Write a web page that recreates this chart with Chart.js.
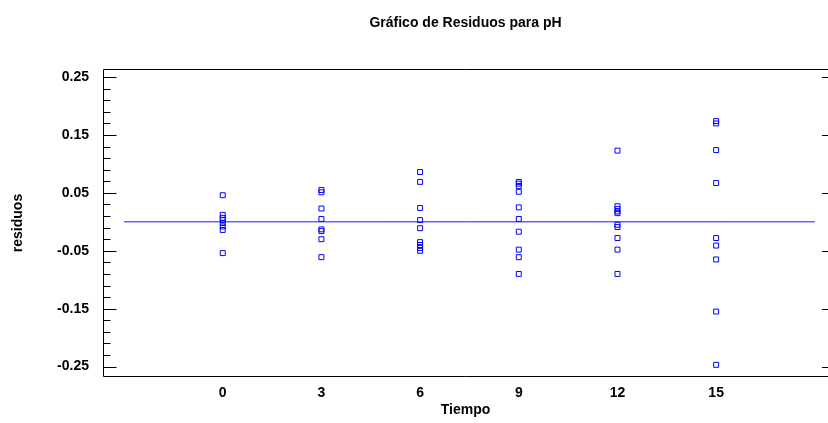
<!DOCTYPE html>
<html>
<head>
<meta charset="utf-8">
<title>Gráfico de Residuos para pH</title>
<script src="https://cdn.jsdelivr.net/npm/chart.js@4.4.1/dist/chart.umd.min.js"></script>
<style>
  html, body { margin: 0; padding: 0; background: #fff; }
  #wrap { width: 828px; height: 423px; }
</style>
</head>
<body>
<div id="wrap"><canvas id="residChart" width="828" height="423"></canvas></div>
<script>
/* ---- data ---- */
const tiempos = [0, 3, 6, 9, 12, 15];

const residuosT0 = [0.046, 0.012, 0.007, 0.003, -0.002, -0.008, -0.014, -0.054];
const residuosT3 = [0.055, 0.051, 0.023, 0.005, -0.013, -0.016, -0.030, -0.061];
const residuosT6 = [0.086, 0.069, 0.024, 0.003, -0.011, -0.035, -0.040, -0.045, -0.050];
const residuosT9 = [0.069, 0.066, 0.062, 0.052, 0.025, 0.005, -0.017, -0.048, -0.061, -0.090];
const residuosT12 = [0.123, 0.027, 0.022, 0.018, 0.015, -0.005, -0.009, -0.028, -0.048, -0.090];
const residuosT15 = [0.174, 0.170, 0.124, 0.067, -0.028, -0.041, -0.065, -0.155, -0.247];

const yTickValues = [0.25, 0.15, 0.05, -0.05, -0.15, -0.25];
const yMinorStep = 0.02;

// zero reference line end points (in data units)
const zeroLineX = [-3, 18];

const chartTitle = 'Gráfico de Residuos para pH';

/* ---- build scatter points ---- */
const residuosPorTiempo = [residuosT0, residuosT3, residuosT6, residuosT9, residuosT12, residuosT15];
const puntos = [];
residuosPorTiempo.forEach((lista, i) => {
  lista.forEach((r) => puntos.push({ x: tiempos[i], y: r }));
});

const FONT = '"Liberation Sans", Arial, Helvetica, sans-serif';
const blue = 'rgb(0, 0, 255)';

// frame (top/left/bottom) + inner tick marks + title, drawn on the canvas
const framePlugin = {
  id: 'frame',
  afterDraw(chart) {
    const { ctx, chartArea: a, scales: { y } } = chart;
    const left = Math.round(a.left) + 0.5;
    const top = Math.round(a.top) + 0.5;
    const bottom = Math.round(a.bottom) - 0.5;
    const right = chart.width;
    ctx.save();
    ctx.strokeStyle = '#000';
    ctx.lineWidth = 1;
    ctx.beginPath();
    ctx.moveTo(right, top);
    ctx.lineTo(left, top);
    ctx.lineTo(left, bottom);
    ctx.lineTo(right, bottom);
    ctx.stroke();

    // left minor + major ticks, pointing into the plot
    ctx.beginPath();
    for (let i = 0; i <= 25; i++) {
      const v = -0.25 + i * yMinorStep;
      const py = Math.round(y.getPixelForValue(v)) + 0.5;
      const isMajor = yTickValues.some((t) => Math.abs(t - v) < 1e-6);
      ctx.moveTo(left, py);
      ctx.lineTo(left + (isMajor ? 13 : 7), py);
    }
    // right side, major only
    yTickValues.forEach((v) => {
      const py = Math.round(y.getPixelForValue(v)) + 0.5;
      ctx.moveTo(right, py);
      ctx.lineTo(right - 6, py);
    });
    ctx.stroke();

    // title centred over the plot area
    ctx.fillStyle = '#000';
    ctx.font = 'bold 14px ' + FONT;
    ctx.textAlign = 'center';
    ctx.textBaseline = 'middle';
    ctx.fillText(chartTitle, (a.left + right) / 2, 23);
    ctx.restore();
  }
};

new Chart(document.getElementById('residChart'), {
  type: 'scatter',
  data: {
    datasets: [
      {
        label: 'cero',
        type: 'line',
        data: zeroLineX.map((x) => ({ x: x, y: 0 })),
        borderColor: 'rgb(20, 20, 255)',
        borderWidth: 1,
        pointRadius: 0,
        fill: false,
        order: 2
      },
      {
        label: 'residuos',
        data: puntos,
        pointStyle: 'rect',
        pointRadius: 3.5,
        pointBorderWidth: 1,
        pointBorderColor: blue,
        pointBackgroundColor: 'rgba(0,0,0,0)',
        order: 1
      }
    ]
  },
  options: {
    responsive: false,
    animation: false,
    layout: { autoPadding: false, padding: { top: 69, right: 0, bottom: 0, left: 0 } },
    plugins: {
      legend: { display: false },
      tooltip: { enabled: false }
    },
    scales: {
      x: {
        type: 'linear',
        min: -3.64,
        max: 18.4,
        grid: { display: false, drawTicks: false },
        border: { display: false },
        afterBuildTicks: (scale) => { scale.ticks = tiempos.map((v) => ({ value: v })); },
        afterFit: (scale) => { scale.height = 46; },
        ticks: {
          padding: 8,
          color: '#000',
          font: { family: FONT, size: 14, weight: 'bold' }
        },
        title: {
          display: true,
          text: 'Tiempo',
          color: '#000',
          font: { family: FONT, size: 14, weight: 'bold' },
          padding: { top: 0, bottom: 4 }
        }
      },
      y: {
        type: 'linear',
        min: -0.268,
        max: 0.264,
        grid: { display: false, drawTicks: false },
        border: { display: false },
        afterBuildTicks: (scale) => { scale.ticks = yTickValues.map((v) => ({ value: v })); },
        afterFit: (scale) => { scale.width = 103; },
        ticks: {
          padding: 14,
          color: '#000',
          font: { family: FONT, size: 14, weight: 'bold' },
          callback: (v) => Number(v).toFixed(2)
        },
        title: {
          display: true,
          text: 'residuos',
          color: '#000',
          font: { family: FONT, size: 14, weight: 'bold' },
          padding: { top: 10, bottom: 0 }
        }
      }
    }
  },
  plugins: [framePlugin]
});
</script>
</body>
</html>
